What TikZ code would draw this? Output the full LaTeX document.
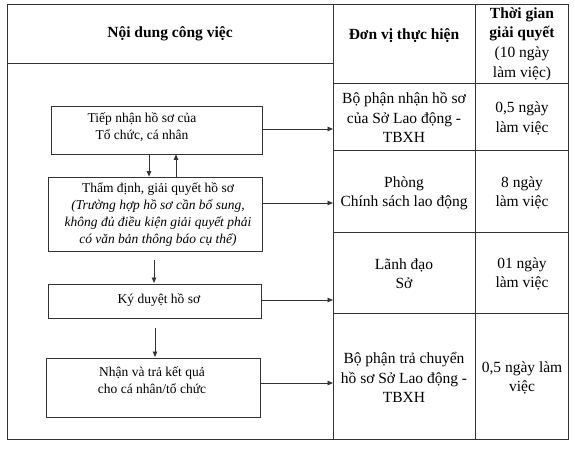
\documentclass[tikz,border=0pt]{standalone}
\usepackage{fontspec}
\setmainfont{Liberation Serif}
\usetikzlibrary{arrows.meta}
\begin{document}
\begin{tikzpicture}[x=1pt,y=-1pt,
  ln/.style={draw=black!80,line width=0.8pt},
  flowbox/.style={ln,rectangle,inner sep=0pt},
  smalltxt/.style={align=center,inner sep=0pt,font=\fontsize{13.5}{16.8}\selectfont},
  bigtxt/.style={align=center,inner sep=0pt,font=\fontsize{15.5}{19.3}\selectfont},
  headtxt/.style={align=center,inner sep=0pt,font=\fontsize{15.5}{19.6}\selectfont},
  arr/.style={ln,-{Triangle[length=5.5pt,width=4.5pt]}}]
\useasboundingbox (0,0) rectangle (575,449);
% table frame
\draw[ln] (7,4) rectangle (568,439);
\draw[ln] (7,63) -- (333,63);
\draw[ln] (333,4) -- (333,439);
\draw[ln] (475,4) -- (475,439);
\draw[ln] (333,83) -- (568,83);
\draw[ln] (333,150) -- (568,150);
\draw[ln] (333,232) -- (568,232);
\draw[ln] (333,313) -- (568,313);
% headers
\node[headtxt,font=\fontsize{15.5}{19}\selectfont\bfseries] (h1) at (170,34) {Nội dung công việc};
\node[headtxt,font=\fontsize{15.5}{19}\selectfont\bfseries] (h2) at (404,36) {Đơn vị thực hiện};
\node[headtxt] (h3) at (522,44) {\textbf{Thời gian}\\\textbf{giải quyết}\\(10 ngày\\làm việc)};
% right column texts
\node[bigtxt] (u1) at (404,117.5) {Bộ phận nhận hồ sơ\\của Sở Lao động -\\TBXH};
\node[bigtxt] (t1) at (522,118.5) {0,5 ngày\\làm việc};
\node[bigtxt] (u2) at (404,193) {Phòng\\Chính sách lao động};
\node[bigtxt] (t2) at (522,193) {8 ngày\\làm việc};
\node[bigtxt] (u3) at (404,274) {Lãnh đạo\\Sở};
\node[bigtxt] (t3) at (522,274) {01 ngày\\làm việc};
\node[bigtxt] (u4) at (404,377.5) {Bộ phận trả chuyển\\hồ sơ Sở Lao động -\\TBXH};
\node[bigtxt] (t4) at (522,378) {0,5 ngày làm\\việc};
% flow boxes
\node[flowbox,minimum width=211pt,minimum height=48pt] (b1) at (156.5,130) {};
\node[smalltxt] (b1t) at (142,127.5) {Tiếp nhận hồ sơ của\\Tổ chức, cá nhân};
\node[flowbox,minimum width=214pt,minimum height=74pt] (b2) at (155,214) {};
\node[smalltxt] (b2t) at (158,214.5) {Thẩm định, giải quyết hồ sơ\\\textit{(Trường hợp hồ sơ cần bổ sung,}\\\textit{không đủ điều kiện giải quyết phải}\\\textit{có văn bản thông báo cụ thể)}};
\node[flowbox,minimum width=213pt,minimum height=34pt] (b3) at (154.5,301) {};
\node[smalltxt] (b3t) at (159,300) {Ký duyệt hồ sơ};
\node[flowbox,minimum width=214pt,minimum height=59pt] (b4) at (153,387.5) {};
\node[smalltxt] (b4t) at (152,380) {Nhận và trả kết quả\\cho cá nhân/tổ chức};
% connector end points on the column divider
\coordinate (e1) at (333,129);
\coordinate (e2) at (333,203);
\coordinate (e3) at (333,300);
\coordinate (e4) at (333,383);
\draw[arr] (b1.east |- e1) -- (e1);
\draw[arr] (b2.east |- e2) -- (e2);
\draw[arr] (b3.east |- e3) -- (e3);
\draw[arr] (b4.east |- e4) -- (e4);
% vertical arrows
\coordinate (v1) at (149,0);
\coordinate (v2) at (176,0);
\draw[arr] (b1.south -| v1) -- (b2.north -| v1);
\draw[arr] (b2.north -| v2) -- (b1.south -| v2);
\coordinate (s2) at (154,260);
\coordinate (s3) at (154,283);
\draw[arr] (s2) -- (s3);
\coordinate (s4) at (155,328);
\coordinate (s5) at (155,357);
\draw[arr] (s4) -- (s5);
\end{tikzpicture}
\end{document}
